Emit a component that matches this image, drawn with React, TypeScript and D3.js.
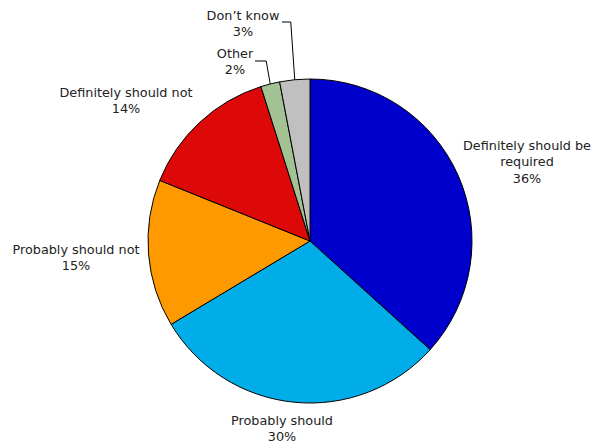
import React from "react";
import * as d3 from "d3";

const categories = [
  "Definitely should be required",
  "Probably should",
  "Probably should not",
  "Definitely should not",
  "Other",
  "Don't know",
];
// slice sizes (labels show rounded figures)
const values = [36.7, 29.7, 14.7, 14.0, 1.9, 3.0];
const labelLines = [
  ["Definitely should be", "required", "36%"],
  ["Probably should", "30%"],
  ["Probably should not", "15%"],
  ["Definitely should not", "14%"],
  ["Other", "2%"],
  ["Don\u2019t know", "3%"],
];
const colors = ["#0000CC", "#00ADE8", "#FF9900", "#DD0808", "#A3C293", "#C0C0C0"];

const W = 598, H = 447;
const cx = 310, cy = 241, R = 162;

const labelPos: [number, number][] = [
  [527, 145],
  [282, 420],
  [76, 249],
  [126, 92],
  [235, 53],
  [243, 15],
];

export default function App() {
  const pie = d3.pie<number>().value((d) => d).sort(null);
  const arcs = pie(values);
  const arc = d3.arc<d3.PieArcDatum<number>>().innerRadius(0).outerRadius(R);
  const lh = 16.5;

  const leader = (i: number, textRight: number, y: number) => {
    const a = (arcs[i].startAngle + arcs[i].endAngle) / 2;
    const px = cx + R * Math.sin(a);
    const py = cy - R * Math.cos(a);
    const hx = px - 4;
    return `M${textRight},${y} L${hx},${y} L${px},${py}`;
  };

  return (
    <svg width={W} height={H} style={{ position: "absolute", left: 0, top: 0 }}>
      <rect width={W} height={H} fill="#fff" />
      <g transform={`translate(${cx},${cy})`}>
        {arcs.map((a, i) => (
          <path key={categories[i]} d={arc(a) as string} fill={colors[i]} stroke="#000" strokeWidth={1} />
        ))}
      </g>
      <path d={leader(4, 255, 61)} fill="none" stroke="#000" strokeWidth={1} />
      <path d={leader(5, 282, 22)} fill="none" stroke="#000" strokeWidth={1} />
      {labelLines.map((lines, i) => (
        <text
          key={i}
          textAnchor="middle"
          fontFamily="DejaVu Sans, Verdana, sans-serif"
          fontSize={12.8}
          fill="#222"
        >
          {lines.map((t, j) => (
            <tspan key={j} x={labelPos[i][0]} y={labelPos[i][1] + j * lh + 4.5}>
              {t}
            </tspan>
          ))}
        </text>
      ))}
    </svg>
  );
}
